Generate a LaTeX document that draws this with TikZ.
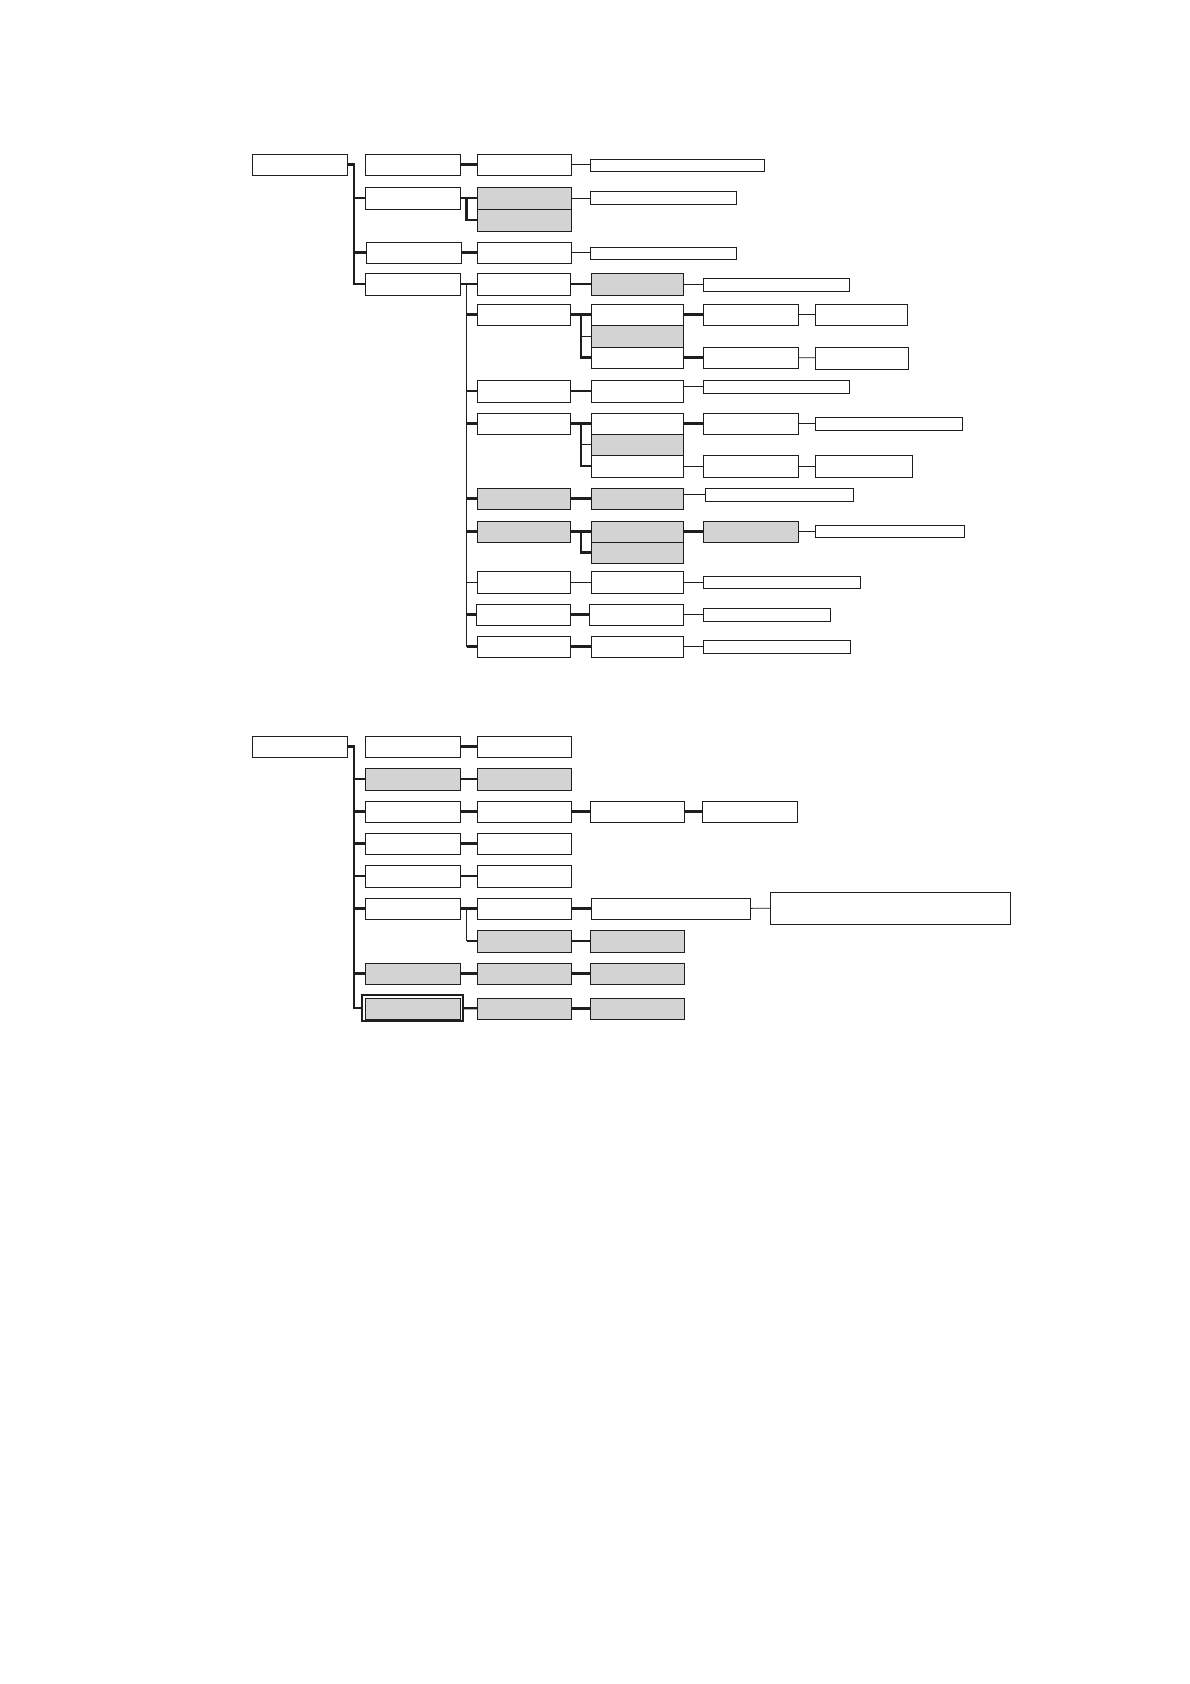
\documentclass[tikz,border=0pt]{standalone}
\definecolor{boxgray}{HTML}{D3D3D3}
\definecolor{edgeblack}{HTML}{1E1E1E}
\tikzset{
  box/.style={draw=edgeblack, line width=1pt, inner sep=0pt, outer sep=0pt, fill=white},
  gbox/.style={box, fill=boxgray},
  tk/.style={draw=edgeblack, line width=2.3pt},
  tn/.style={draw=edgeblack, line width=0.85pt}
}
\newcommand{\bx}[6]{\node[#6, minimum width={(#4-#2)*1pt}, minimum height={(#5-#3)*1pt}] (#1) at ({(#2+#4)/2},{(#3+#5)/2}) {};}
\begin{document}
\begin{tikzpicture}[x=1pt, y=-1pt]
\path[use as bounding box, fill=white] (0,0) rectangle (1190,1684);
% ---------- top tree ----------
\bx{R1}{252}{154}{347}{175}{box}
\bx{A1}{365}{154}{460}{175}{box}
\bx{A2}{365}{187}{460}{209}{box}
\bx{A3}{366}{242}{461}{263}{box}
\bx{A4}{365}{273}{460}{295}{box}
\bx{a1b}{477}{154}{571}{175}{box}
\bx{a2b}{477}{187}{571}{209}{gbox}
\bx{a2c}{477}{209}{571}{231}{gbox}
\bx{a3b}{477}{242}{571}{263}{box}
\bx{t1}{590}{159}{764}{171}{box}
\bx{t2}{590}{191}{736}{204}{box}
\bx{t3}{590}{247}{736}{259}{box}
% rows under A4
\bx{b1}{477}{273}{570}{295}{box}
\bx{c1}{591}{273}{683}{295}{gbox}
\bx{d1}{703}{278}{849}{291}{box}
\bx{b2}{477}{304}{570}{325}{box}
\bx{c2a}{591}{304}{683}{325}{box}
\bx{c2b}{591}{325}{683}{347}{gbox}
\bx{c2c}{591}{347}{683}{368}{box}
\bx{d2a}{703}{304}{798}{325}{box}
\bx{d2c}{703}{347}{798}{368}{box}
\bx{e2a}{815}{304}{907}{325}{box}
\bx{e2c}{815}{347}{908}{369}{box}
\bx{b3}{477}{380}{570}{402}{box}
\bx{c3}{591}{380}{683}{402}{box}
\bx{d3}{703}{380}{849}{393}{box}
\bx{b4}{477}{413}{570}{434}{box}
\bx{c4a}{591}{413}{683}{434}{box}
\bx{c4b}{591}{434}{683}{455}{gbox}
\bx{c4c}{591}{455}{683}{477}{box}
\bx{d4a}{703}{413}{798}{434}{box}
\bx{d4c}{703}{455}{798}{477}{box}
\bx{e4a}{815}{417}{962}{430}{box}
\bx{e4c}{815}{455}{912}{477}{box}
\bx{b5}{477}{488}{570}{509}{gbox}
\bx{c5}{591}{488}{683}{509}{gbox}
\bx{d5}{705}{488}{853}{501}{box}
\bx{b6}{477}{521}{570}{542}{gbox}
\bx{c6a}{591}{521}{683}{542}{gbox}
\bx{c6b}{591}{542}{683}{563}{gbox}
\bx{d6}{703}{521}{798}{542}{gbox}
\bx{e6}{815}{525}{964}{537}{box}
\bx{b7}{477}{571}{570}{593}{box}
\bx{c7}{591}{571}{683}{593}{box}
\bx{d7}{703}{576}{860}{588}{box}
\bx{b8}{476}{604}{570}{625}{box}
\bx{c8}{589}{604}{683}{625}{box}
\bx{d8}{703}{608}{830}{621}{box}
\bx{b9}{477}{636}{570}{657}{box}
\bx{c9}{591}{636}{683}{657}{box}
\bx{d9}{703}{640}{850}{653}{box}
\coordinate (T) at (354,0);
\coordinate (V) at (466.6,0);
\coordinate (J) at (580.7,0);
% trunk
\draw[tk] (R1.east) -- (R1.east -| T) |- (A4.west);
\draw[tk] (T |- A2.west) -- (A2.west);
\draw[tk] (T |- A3.west) -- (A3.west);
\draw[tk] (A1) -- (a1b);
\draw[tn] (a1b.east) -- (a1b.east -| t1.west);
\draw[tk] (A2) -- (a2b);
\draw[tk] (A2.east -| V) |- (a2c.west);
\draw[tn] (a2b.east) -- (a2b.east -| t2.west);
\draw[tk] (A3.east) -- (A3.east -| a3b.west);
\draw[tn] (a3b.east) -- (a3b.east -| t3.west);
\draw[tk] (A4) -- (b1);
\draw[tn] (A4.east -| V) -- (V |- b9.west);
\draw[tk] (V |- b2.west) -- (b2.west);
\draw[tk] (V |- b3.west) -- (b3.west);
\draw[tk] (V |- b4.west) -- (b4.west);
\draw[tk] (V |- b5.west) -- (b5.west);
\draw[tk] (V |- b6.west) -- (b6.west);
\draw[tn] (V |- b7.west) -- (b7.west);
\draw[tk] (V |- b8.west) -- (b8.west);
\draw[tk] (V |- b9.west) -- (b9.west);
% row 4
\draw[tk] (b1) -- (c1);
\draw[tn] (c1.east |- d1.west) -- (d1.west);
% row 5
\draw[tk] (b2) -- (c2a);
\draw[tk] (b2.east -| J) |- (c2c.west);
\draw[tn] (J |- c2b.west) -- (c2b.west);
\draw[tk] (c2a) -- (d2a);
\draw[tk] (c2c) -- (d2c);
\draw[tn] (d2a) -- (e2a);
\draw[tn] (d2c) -- (e2c);
% row 6
\draw[tk] (b3) -- (c3);
\draw[tn] (d3.west -| c3.east) -- (d3.west);
% row 7
\draw[tk] (b4) -- (c4a);
\draw[tk] (b4.east -| J) |- (c4c.west);
\draw[tn] (J |- c4b.west) -- (c4b.west);
\draw[tk] (c4a) -- (d4a);
\draw[tn] (c4c) -- (d4c);
\draw[tn] (d4a.east) -- (d4a.east -| e4a.west);
\draw[tn] (d4c) -- (e4c);
% row 8
\draw[tk] (b5) -- (c5);
\draw[tn] (d5.west -| c5.east) -- (d5.west);
% row 9
\draw[tk] (b6) -- (c6a);
\draw[tk] (b6.east -| J) |- (c6b.west);
\draw[tk] (c6a) -- (d6);
\draw[tn] (d6.east) -- (d6.east -| e6.west);
% rows 10-12
\draw[tn] (b7) -- (c7);
\draw[tn] (c7.east) -- (c7.east -| d7.west);
\draw[tk] (b8) -- (c8);
\draw[tn] (c8.east) -- (c8.east -| d8.west);
\draw[tk] (b9) -- (c9);
\draw[tn] (c9.east) -- (c9.east -| d9.west);
% ---------- bottom tree ----------
\bx{R2}{252}{736}{347}{757}{box}
\bx{C1}{365}{736}{460}{757}{box}
\bx{C2}{365}{768}{460}{790}{gbox}
\bx{C3}{365}{801}{460}{822}{box}
\bx{C4}{365}{833}{460}{854}{box}
\bx{C5}{365}{865}{460}{887}{box}
\bx{C6}{365}{898}{460}{919}{box}
\bx{C7}{365}{963}{460}{984}{gbox}
\node[draw=edgeblack, line width=1.4pt, inner sep=0pt, outer sep=0pt, minimum width=101pt, minimum height=26pt] (C8o) at (412.5,1008) {};
\bx{C8}{365}{998}{460}{1019}{gbox}
\bx{D1}{477}{736}{571}{757}{box}
\bx{D2}{477}{768}{571}{790}{gbox}
\bx{D3}{477}{801}{571}{822}{box}
\bx{D4}{477}{833}{571}{854}{box}
\bx{D5}{477}{865}{571}{887}{box}
\bx{D6}{477}{898}{571}{919}{box}
\bx{D6b}{477}{930}{571}{952}{gbox}
\bx{D7}{477}{963}{571}{984}{gbox}
\bx{D8}{477}{998}{571}{1019}{gbox}
\bx{E3}{590}{801}{684}{822}{box}
\bx{E6}{591}{898}{750}{919}{box}
\bx{E6b}{590}{930}{684}{952}{gbox}
\bx{E7}{590}{963}{684}{984}{gbox}
\bx{E8}{590}{998}{684}{1019}{gbox}
\bx{F3}{702}{801}{797}{822}{box}
\bx{F6}{770}{892}{1010}{924}{box}
\draw[tk] (R2.east) -- (R2.east -| T) |- (C8o.west);
\draw[tk] (T |- C2.west) -- (C2.west);
\draw[tk] (T |- C3.west) -- (C3.west);
\draw[tk] (T |- C4.west) -- (C4.west);
\draw[tk] (T |- C5.west) -- (C5.west);
\draw[tk] (T |- C6.west) -- (C6.west);
\draw[tk] (T |- C7.west) -- (C7.west);
\draw[tk] (C1) -- (D1);
\draw[tk] (C2) -- (D2);
\draw[tk] (C3) -- (D3);
\draw[tk] (D3) -- (E3);
\draw[tk] (E3) -- (F3);
\draw[tk] (C4) -- (D4);
\draw[tk] (C5) -- (D5);
\draw[tk] (C6) -- (D6);
\draw[tn] (C6.east -| V) -- (V |- D6b.west);
\draw[tk] (V |- D6b.west) -- (D6b.west);
\draw[tk] (D6) -- (E6);
\draw[tn] (E6) -- (F6);
\draw[tk] (D6b) -- (E6b);
\draw[tk] (C7) -- (D7);
\draw[tk] (D7) -- (E7);
\draw[tk] (C8o) -- (D8);
\draw[tk] (D8) -- (E8);
\end{tikzpicture}
\end{document}
